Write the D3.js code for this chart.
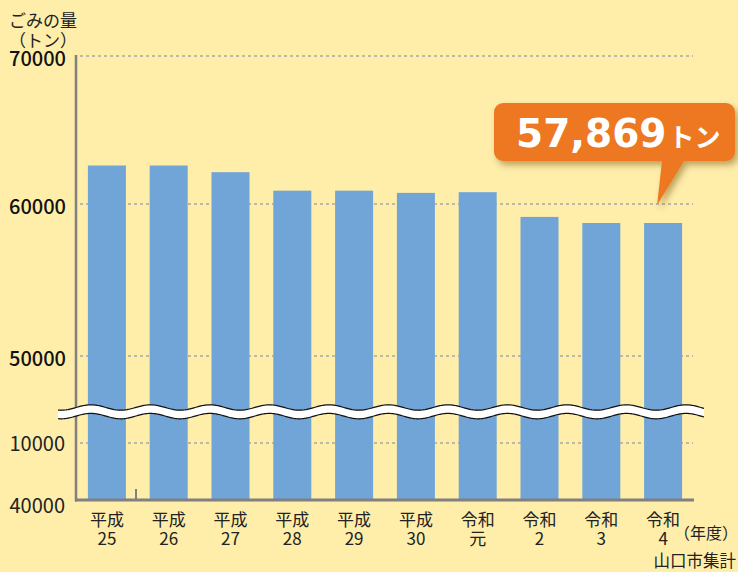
<!DOCTYPE html>
<html>
<head>
<meta charset="utf-8">
<script src="https://cdn.jsdelivr.net/npm/d3@7"></script>
<style>
  html, body { margin: 0; padding: 0; background: #FFEDAA; }
  svg { display: block; }
</style>
</head>
<body>
<div id="chart"></div>
<script>
// data
const eraLabels = ["平成", "平成", "平成", "平成", "平成", "平成", "令和", "令和", "令和", "令和"];
const yearLabels = ["25", "26", "27", "28", "29", "30", "元", "2", "3", "4"];
const wasteTons = [62600, 62600, 62150, 60900, 60900, 60750, 60800, 59150, 58750, 58750];
const upperTicks = [50000, 60000, 70000];
const lowerTicks = [10000, 0];
const lowerTickLabels = ["10000", "40000"];
const latestAmount = "57,869";
const latestUnit = "トン";

const width = 738;
const height = 572;
const jp = "'Noto Sans CJK JP', 'Noto Sans', sans-serif";
const barColor = "#72A5D7";
const axisColor = "#808080";
const gridColor = "#A8A8A8";
const orange = "#EE7822";

const svg = d3.select("#chart")
  .append("svg")
  .attr("width", width)
  .attr("height", height);

svg.append("rect").attr("width", width).attr("height", height).attr("fill", "#FFEDAA");

const defs = svg.append("defs");
defs.append("filter")
  .attr("id", "shadow")
  .attr("x", "-20%").attr("y", "-20%").attr("width", "140%").attr("height", "160%")
  .append("feDropShadow")
  .attr("dx", 3).attr("dy", 4).attr("stdDeviation", 3)
  .attr("flood-color", "#6b4a10").attr("flood-opacity", 0.45);

const baseY = 500;
const x = d3.scaleBand()
  .domain(d3.range(wasteTons.length))
  .range([76, 694])
  .paddingInner(0.385)
  .paddingOuter(0.1925);

// upper part of the broken axis
const y = d3.scaleLinear()
  .domain([50000, 60000, 70000])
  .range([356, 204, 56]);

// lower part below the break
const yLow = d3.scaleLinear()
  .domain([0, 10000])
  .range([baseY, 443]);

// grid lines
const gridAt = upperTicks.map(y).concat([yLow(10000)]);
svg.append("g")
  .selectAll("line")
  .data(gridAt)
  .enter()
  .append("line")
  .attr("x1", 80)
  .attr("x2", 693)
  .attr("y1", (d) => d)
  .attr("y2", (d) => d)
  .attr("stroke", gridColor)
  .attr("stroke-width", 1.5)
  .attr("stroke-dasharray", "3,3");

// bars
svg.append("g")
  .selectAll("rect")
  .data(wasteTons)
  .enter()
  .append("rect")
  .attr("x", (d, i) => x(i))
  .attr("y", (d) => y(d))
  .attr("width", x.bandwidth())
  .attr("height", (d) => baseY - y(d))
  .attr("fill", barColor);

// axes
svg.append("line")
  .attr("x1", 76).attr("x2", 76)
  .attr("y1", 55).attr("y2", baseY + 1.5)
  .attr("stroke", axisColor).attr("stroke-width", 2.5);
svg.append("line")
  .attr("x1", 75).attr("x2", 694)
  .attr("y1", baseY).attr("y2", baseY)
  .attr("stroke", axisColor).attr("stroke-width", 3);
svg.append("line")
  .attr("x1", 136).attr("x2", 136)
  .attr("y1", 489).attr("y2", baseY)
  .attr("stroke", axisColor).attr("stroke-width", 2);

// y labels
svg.append("g")
  .selectAll("text")
  .data(upperTicks)
  .enter()
  .append("text")
  .attr("x", 66)
  .attr("y", (d) => y(d) + 10)
  .attr("text-anchor", "end")
  .attr("font-family", jp)
  .attr("font-size", 20)
  .attr("font-weight", 500)
  .attr("fill", "#111")
  .text((d) => d);

svg.append("g")
  .selectAll("text")
  .data(lowerTicks)
  .enter()
  .append("text")
  .attr("x", 65)
  .attr("y", (d) => yLow(d) + (d === 0 ? 13 : 8))
  .attr("text-anchor", "end")
  .attr("font-family", jp)
  .attr("font-size", 20)
  .attr("fill", "#222")
  .text((d, i) => lowerTickLabels[i]);

// axis title
const title = svg.append("text")
  .attr("font-family", jp)
  .attr("font-size", 17)
  .attr("fill", "#222")
  .attr("text-anchor", "middle");
title.append("tspan").attr("x", 43).attr("y", 27).text("ごみの量");
title.append("tspan").attr("x", 43).attr("y", 47).text("（トン）");

// x labels
const xl = svg.append("g")
  .selectAll("text")
  .data(eraLabels)
  .enter()
  .append("text")
  .attr("font-family", jp)
  .attr("font-size", 17)
  .attr("fill", "#222")
  .attr("text-anchor", "middle");
xl.append("tspan")
  .attr("x", (d, i) => x(i) + x.bandwidth() / 2)
  .attr("y", 526)
  .text((d) => d);
xl.append("tspan")
  .attr("x", (d, i) => x(i) + x.bandwidth() / 2)
  .attr("y", 545)
  .text((d, i) => yearLabels[i]);

svg.append("text")
  .attr("x", 738).attr("y", 539)
  .attr("text-anchor", "end")
  .attr("font-family", jp).attr("font-size", 16).attr("fill", "#222")
  .text("（年度）");
svg.append("text")
  .attr("x", 736).attr("y", 567)
  .attr("text-anchor", "end")
  .attr("font-family", jp).attr("font-size", 16.5).attr("fill", "#222")
  .text("山口市集計");

// wavy break band
const waveXs = d3.range(58, 704.5, 1);
const mid = (px) => 411.8 - 2.7 * Math.cos(2 * Math.PI * (px - 448) / 59.5);
const topEdge = waveXs.map((px) => [px, mid(px) - 4.3]);
const bottomEdge = waveXs.map((px) => [px, mid(px) + 4.3]);
const line = d3.line();
svg.append("path")
  .attr("d", line(topEdge.concat(bottomEdge.slice().reverse())) + "Z")
  .attr("fill", "#fff");
[topEdge, bottomEdge].forEach((edge) => {
  svg.append("path")
    .attr("d", line(edge))
    .attr("fill", "none")
    .attr("stroke", "#111")
    .attr("stroke-width", 1.2);
});

// callout for the latest year
const last = wasteTons.length - 1;
const tipX = x(last) + x.bandwidth() / 2 - 6;
const tipY = y(wasteTons[last]) - 18;
const box = { x0: 494, y0: 103, x1: 735, y1: 161, r: 9 };
const bubble = d3.path();
bubble.moveTo(box.x0 + box.r, box.y0);
bubble.lineTo(box.x1 - box.r, box.y0);
bubble.arcTo(box.x1, box.y0, box.x1, box.y0 + box.r, box.r);
bubble.lineTo(box.x1, box.y1 - box.r);
bubble.arcTo(box.x1, box.y1, box.x1 - box.r, box.y1, box.r);
bubble.lineTo(684, box.y1);
bubble.lineTo(tipX, tipY);
bubble.lineTo(662, box.y1);
bubble.lineTo(box.x0 + box.r, box.y1);
bubble.arcTo(box.x0, box.y1, box.x0, box.y1 - box.r, box.r);
bubble.lineTo(box.x0, box.y0 + box.r);
bubble.arcTo(box.x0, box.y0, box.x0 + box.r, box.y0, box.r);
bubble.closePath();

svg.append("path")
  .attr("d", bubble.toString())
  .attr("fill", orange)
  .attr("filter", "url(#shadow)");

const callout = svg.append("text")
  .attr("x", 516)
  .attr("y", 147)
  .attr("fill", "#fff")
  .attr("font-weight", "bold");
callout.append("tspan")
  .attr("font-family", "'DejaVu Sans', sans-serif")
  .attr("font-size", 39)
  .text(latestAmount);
callout.append("tspan")
  .attr("font-family", jp)
  .attr("font-size", 26)
  .attr("dx", 2)
  .text(latestUnit);
</script>
</body>
</html>
